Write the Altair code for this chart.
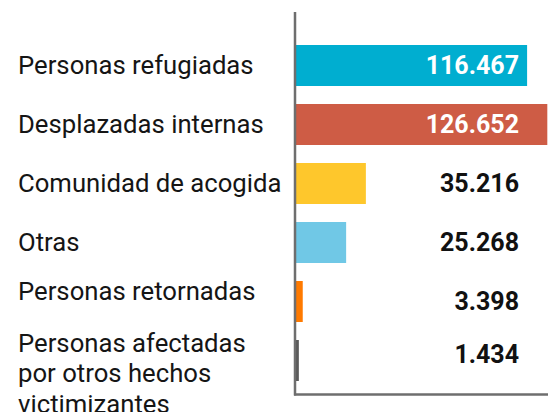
import altair as alt
import pandas as pd

categories = [
    "Personas refugiadas",
    "Desplazadas internas",
    "Comunidad de acogida",
    "Otras",
    "Personas retornadas",
    "Personas afectadas\npor otros hechos\nvictimizantes",
]
values = [116467, 126652, 35216, 25268, 3398, 1434]
colors = ["#00AED0", "#CE5C45", "#FEC72C", "#70C8E6", "#FF7A00", "#5A5A5A"]

df = pd.DataFrame({"cat": categories, "value": values, "color": colors})

yscale = alt.Scale(domain=categories, range=[36, 390], paddingInner=0.305, paddingOuter=0.1525)
xscale = alt.Scale(domain=[0, 127000], range=[296, 548])

Y = alt.Y("cat:N", scale=yscale, axis=None, sort=None)

base = alt.Chart(df)

bars = base.mark_bar().encode(
    x=alt.X("value:Q", scale=xscale, axis=None),
    y=Y,
    color=alt.Color("color:N", scale=None, legend=None),
)

val_kw = dict(align="right", baseline="middle", font="Roboto", fontSize=25, fontWeight="bold")
valbase = base.transform_calculate(label="replace(format(datum.value, ','), ',', '.')")
vals = valbase.transform_filter("datum.value >= 2000").mark_text(**val_kw).encode(
    x=alt.value(519),
    y=Y,
    text="label:N",
    color=alt.condition("datum.value > 100000", alt.value("white"), alt.value("#111111")),
)
vals_last = valbase.transform_filter("datum.value < 2000").mark_text(dy=-6, color="#111111", **val_kw).encode(
    x=alt.value(519), y=Y, text="label:N")

lab_kw = dict(align="left", baseline="middle", font="Roboto", fontSize=25.7, color="#151515",
              lineBreak="\n", lineHeight=30.5)
labels_main = base.transform_filter(
    "indexof(['Personas retornadas'], datum.cat) < 0 && indexof(datum.cat, 'afectadas') < 0"
).mark_text(**lab_kw).encode(x=alt.value(18), y=Y, text="cat:N")
labels_ret = base.transform_filter("datum.cat == 'Personas retornadas'").mark_text(dy=-10, **lab_kw).encode(
    x=alt.value(18), y=Y, text="cat:N")
labels_last = base.transform_filter("indexof(datum.cat, 'afectadas') >= 0").mark_text(dy=-17, **lab_kw).encode(
    x=alt.value(18), y=Y, text="cat:N")

one = alt.Chart(pd.DataFrame({"a": [0]}))
vline = one.mark_rule(color="#6e6e6e", strokeWidth=2.5).encode(
    x=alt.value(295), y=alt.value(12), y2=alt.value(395.5))
hline = one.mark_rule(color="#6e6e6e", strokeWidth=2.5).encode(
    x=alt.value(294), x2=alt.value(548), y=alt.value(394.5))

chart = alt.layer(bars, vals, vals_last, labels_main, labels_ret, labels_last, vline, hline).properties(
    width=548, height=412, autosize=alt.AutoSizeParams(type="none"), padding=0
).configure_view(stroke=None)

chart.save("out.html", embed_options={"renderer": "svg", "actions": False})
